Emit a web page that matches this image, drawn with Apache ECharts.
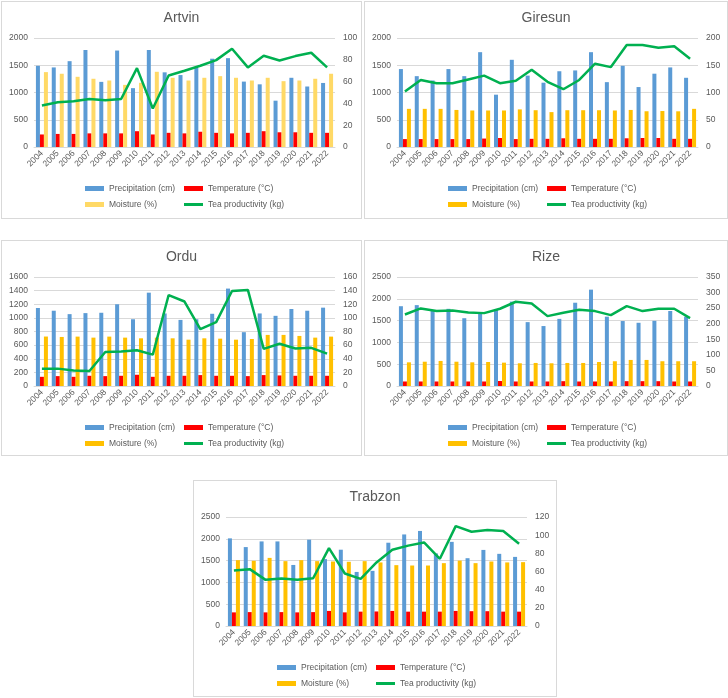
<!DOCTYPE html>
<html lang="en">
<head>
<meta charset="UTF-8">
<title>Tea productivity by province</title>
<script src="https://cdn.jsdelivr.net/npm/echarts@6/dist/echarts.min.js"></script>
<style>
    body { margin: 0; background: #fff; width: 728px; height: 698px; position: relative; overflow: hidden; }
    .panel { position: absolute; border: 1px solid #d9d9d9; box-sizing: border-box; background: #fff; }
</style>
</head>
<body>
<div id="artvin" class="panel" style="left:1px;top:1px;width:361px;height:218px"></div>
<div id="giresun" class="panel" style="left:364px;top:1px;width:364px;height:218px"></div>
<div id="ordu" class="panel" style="left:1px;top:240px;width:361px;height:216px"></div>
<div id="rize" class="panel" style="left:364px;top:240px;width:364px;height:216px"></div>
<div id="trabzon" class="panel" style="left:193px;top:480px;width:364px;height:217px"></div>

<script>
var years = ['2004','2005','2006','2007','2008','2009','2010','2011','2012','2013',
             '2014','2015','2016','2017','2018','2019','2020','2021','2022'];

// Artvin
var artvinPrecip = [1490,1460,1575,1780,1195,1770,1080,1780,1370,1320,1450,1620,1630,1200,1150,850,1270,1110,1175];
var artvinTemp   = [11.5,12,12,12.5,12.5,12.5,14.5,11.5,13,12.5,14,13,12.5,13,14.5,13.5,13.5,13,13];
var artvinMoist  = [68.7,67.2,64.4,62.6,61,57,58.9,69,63.5,61,63.5,65,63.5,61,63.5,60.4,61,62.6,67.2];
var artvinTea    = [38,41,42,44,43,44,72.4,35.3,65.6,70,74.5,79.7,90.2,73,83.7,79.4,83.4,86.5,73];

// Giresun
var giresunPrecip = [1430,1300,1220,1430,1300,1740,960,1600,1310,1180,1390,1405,1740,1190,1490,1100,1345,1460,1270];
var giresunTemp   = [14.5,14.5,14.5,14.5,14.5,15.5,16.5,14.5,15,15,16,15,15,15,16,16.5,16.5,15,15];
var giresunMoist  = [70,70,70,68,67,67,67,69,67.5,64,67.5,67.5,67.5,67,68,65.6,66,65.5,70];
var giresunTea    = [102,123,117,117,124,131,117,121.5,141.7,119.6,106,123,152.8,146.6,187,187,182,185,162];

// Ordu
var orduPrecip = [1145,1105,1055,1070,1075,1200,980,1370,1065,970,980,1060,1430,790,1065,1030,1130,1105,1150];
var orduTemp   = [13.5,14.5,13.5,15,14.5,15,16.5,13.5,15,15,16,15,15,14.5,16,15.5,15,15,15];
var orduMoist  = [72.6,72,72.5,71,72.5,71,70,71,70,68,70,69.5,68,69,75,75,73.5,71,72.5];
var orduTea    = [25.5,25.5,22.6,22,50,50.5,52.5,46,133.5,124,83.4,93.7,139.4,141,54.5,62,55,56,47.6];

// Rize
var rizePrecip = [1830,1855,1730,1770,1555,1670,1750,1935,1465,1375,1540,1910,2210,1590,1490,1450,1495,1720,1590];
var rizeTemp   = [14.5,14.5,14.5,14.5,14.5,14.5,16,14.5,14.5,14.5,15.5,14.5,14.5,14.5,15.5,15.5,15.5,14.5,14.5];
var rizeMoist  = [76,78,80.5,78,76,77,75,73,74,73,74,74,77,79.5,83.7,83.7,79.5,79.5,79.5];
var rizeTea    = [229.7,249,240.5,242.6,236,234,248,270.5,265,224.4,235,244.8,240.5,227.6,256.6,240.5,248,248,218];

// Trabzon
var trabzonPrecip = [2010,1810,1940,1940,1400,1980,1535,1750,1240,1265,1910,2100,2180,1665,1930,1555,1745,1655,1585];
var trabzonTemp   = [15,15.3,15,15.3,15,15.3,16.6,15,15.8,16,16.6,15.8,15.8,15.8,16.6,16.3,16.3,15.8,15.8];
var trabzonMoist  = [72.5,71.8,75,71.4,72.5,71.4,71,70.7,71.4,70,67,66.6,66.6,69.2,72,69.2,71,70,70.3];
var trabzonTea    = [61.1,62.6,50.8,52.3,50.8,52.6,85.8,57.8,51.9,70,84,88.5,92,74,110,103.8,105.6,104.5,90.5];

var FONT = 'Liberation Sans';
var GREY = '#595959';
var plain = function (v) { return String(v); };

function drawPanel(id, title, prec, temp, moist, tea, leftMax, leftStep, rightMax, rightStep, moistColor) {
    var chart = echarts.init(document.getElementById(id));
    var bar = function (name, data, color, axis) {
        return {
            name: name, type: 'bar', data: data, yAxisIndex: axis,
            barWidth: 4, barGap: '0%', itemStyle: { color: color }
        };
    };
    var legendBase = {
        orient: 'vertical', top: 182, itemGap: 7, padding: 0,
        itemWidth: 19, itemHeight: 5,
        textStyle: { fontFamily: FONT, fontSize: 8.5, color: GREY }
    };
    var option = {
        animation: false,
        textStyle: { fontFamily: FONT },
        title: {
            text: title, left: 'center', top: 4,
            textStyle: { fontFamily: FONT, fontSize: 14, fontWeight: 'normal', color: GREY }
        },
        legend: [
            Object.assign({}, legendBase, {
                left: 83,
                data: [{ name: 'Precipitation (cm)', icon: 'rect' }, { name: 'Moisture (%)', icon: 'rect' }]
            }),
            Object.assign({}, legendBase, {
                left: 182,
                data: [{ name: 'Temperature (°C)', icon: 'rect' },
                       { name: 'Tea productivity (kg)', icon: 'path://M0,0L19,0L19,3L0,3Z' }]
            })
        ],
        grid: { left: 32, top: 36, width: 301, height: 109 },
        xAxis: {
            type: 'category', data: years,
            axisLine: { lineStyle: { color: '#d9d9d9' } },
            axisTick: { show: false },
            axisLabel: { rotate: 45, interval: 0, fontSize: 8.5, color: GREY, fontFamily: FONT, margin: 5 }
        },
        yAxis: [
            {
                type: 'value', min: 0, max: leftMax, interval: leftStep,
                axisLabel: { fontSize: 8.5, color: GREY, fontFamily: FONT, margin: 6, formatter: plain },
                splitLine: { lineStyle: { color: '#d9d9d9' } }
            },
            {
                type: 'value', min: 0, max: rightMax, interval: rightStep,
                axisLabel: { fontSize: 8.5, color: GREY, fontFamily: FONT, margin: 8, formatter: plain },
                splitLine: { show: false }
            }
        ],
        series: [
            bar('Precipitation (cm)', prec, '#5b9bd5', 0),
            bar('Temperature (°C)', temp, '#ff0000', 1),
            bar('Moisture (%)', moist, moistColor, 1),
            {
                name: 'Tea productivity (kg)', type: 'line', data: tea, yAxisIndex: 1,
                symbol: 'none', lineStyle: { color: '#00b050', width: 2.5 },
                itemStyle: { color: '#00b050' }
            }
        ]
    };
    chart.setOption(option);
}

drawPanel('artvin', 'Artvin', artvinPrecip, artvinTemp, artvinMoist, artvinTea, 2000, 500, 100, 20, '#ffd966');
drawPanel('giresun', 'Giresun', giresunPrecip, giresunTemp, giresunMoist, giresunTea, 2000, 500, 200, 50, '#ffc000');
drawPanel('ordu', 'Ordu', orduPrecip, orduTemp, orduMoist, orduTea, 1600, 200, 160, 20, '#ffc000');
drawPanel('rize', 'Rize', rizePrecip, rizeTemp, rizeMoist, rizeTea, 2500, 500, 350, 50, '#ffc000');
drawPanel('trabzon', 'Trabzon', trabzonPrecip, trabzonTemp, trabzonMoist, trabzonTea, 2500, 500, 120, 20, '#ffc000');
</script>
</body>
</html>
